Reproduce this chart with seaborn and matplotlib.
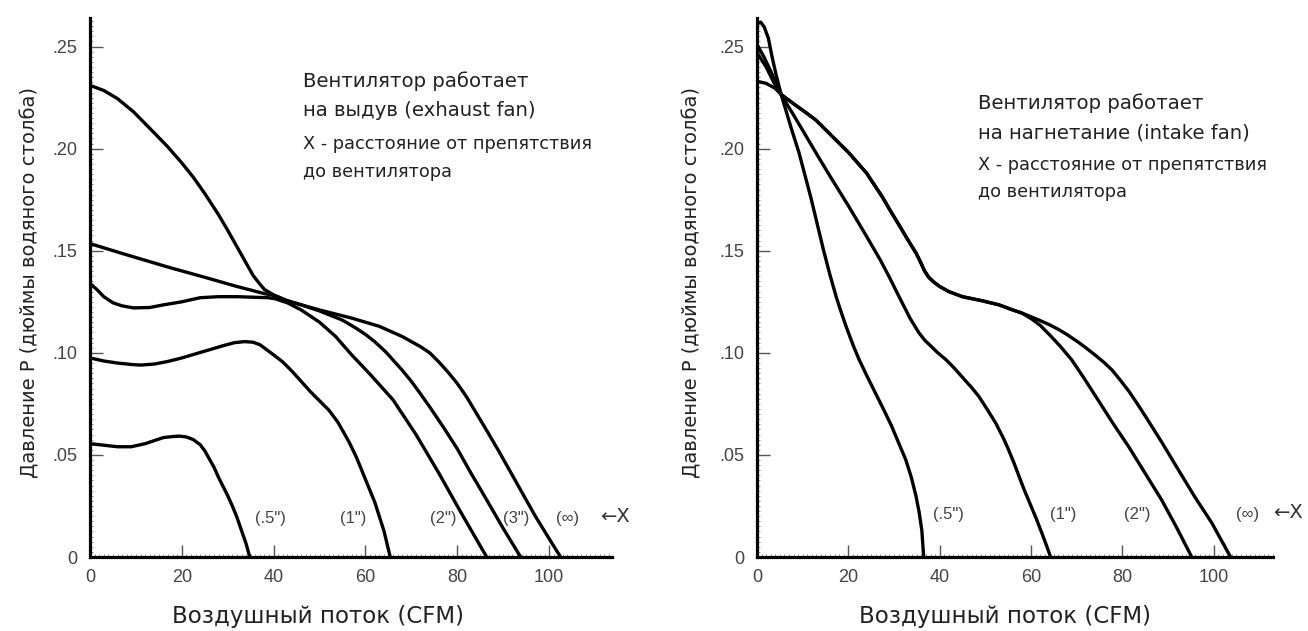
import numpy as np
import pandas as pd
import matplotlib
matplotlib.use("Agg")
import matplotlib.pyplot as plt
from matplotlib import font_manager
from matplotlib.ticker import FixedLocator, MultipleLocator
import seaborn as sns

# ---------------- data ----------------
# Left panel: exhaust fan
ex_05_x = [0, 2, 4, 6, 9, 12, 14, 16, 18, 19.5, 21, 22.5, 24, 25, 26, 27, 28, 29, 30, 31, 32, 33, 34, 34.8]
ex_05_y = [.0555, .055, .0545, .054, .054, .0555, .057, .0585, .059, .0592, .0588, .0575, .055, .052, .048,
           .044, .039, .0345, .030, .025, .0195, .013, .0065, 0]

ex_1_x = [0, 3, 6, 9, 11, 14, 17, 20, 23, 26, 29, 31.5, 33.7, 35.5, 37, 38.5, 40, 42, 44, 46, 48, 50, 52, 54,
          55, 56.5, 58, 59, 60, 61, 62, 63, 64, 65.4]
ex_1_y = [.0975, .096, .095, .0943, .094, .0945, .0958, .0975, .0995, .1015, .1035, .105, .1055, .1052, .104,
          .1015, .099, .0955, .091, .086, .081, .0765, .072, .066, .062, .056, .049, .0435, .038, .0325, .027,
          .020, .013, 0]

ex_2_x = [0, 1.5, 3, 5, 7, 9.5, 13, 16, 20, 24, 28, 32, 36, 38.8, 40.3, 43, 46, 48, 50, 53.5, 57, 60.8, 63,
          66, 71, 76, 81, 86.4]
ex_2_y = [.134, .131, .1275, .1245, .123, .122, .1222, .1235, .125, .127, .1275, .1275, .1272, .127, .1265,
          .1245, .121, .118, .115, .108, .099, .090, .0845, .077, .060, .041, .021, 0]

ex_3_x = [0, 8, 17, 25, 32, 38, 40.3, 43, 46, 50, 55, 58, 60, 62, 64.4, 66, 68, 70, 71.8, 74, 77, 80, 83,
          86.4, 90, 93.8]
ex_3_y = [.1535, .148, .142, .137, .1325, .129, .128, .1255, .1235, .1205, .116, .112, .109, .1055, .1005,
          .0965, .0915, .086, .0805, .0735, .0635, .053, .041, .028, .014, 0]

ex_inf_x = [0, 3, 6, 9.5, 13, 16.9, 20, 22.5, 25, 27.9, 30, 32, 34, 35.5, 36.7, 38, 40.3, 43, 46, 50, 53.5,
            57, 60, 63, 66, 68, 70, 72, 74, 76, 78, 80, 82, 84, 86.4, 89, 92, 95, 97, 100, 102.5]
ex_inf_y = [.231, .2285, .2245, .218, .210, .201, .193, .186, .178, .168, .160, .152, .144, .138, .1345, .131,
            .128, .1255, .1235, .121, .119, .117, .115, .113, .110, .108, .1055, .103, .1, .0955, .0905, .085,
            .0785, .071, .062, .052, .040, .028, .020, .009, 0]

# Right panel: intake fan
in_05_x = [0, 0.8, 1.6, 2.5, 3.3, 4.2, 5.3, 6.3, 7.5, 9.2, 10.5, 11.8, 13.2, 14.6, 16, 17.4, 18.5, 19.5, 21,
           22.3, 24, 26, 28, 29.5, 31, 32.6, 33.8, 34.8, 35.5, 36.1, 36.5]
in_05_y = [.261, .262, .2595, .254, .245, .236, .2265, .219, .210, .198, .187, .176, .163, .150, .138, .127,
           .1195, .113, .104, .097, .089, .080, .071, .064, .056, .0475, .039, .030, .022, .013, 0]

in_1_x = [0, 1.5, 3, 4.2, 5.3, 6.5, 8, 10, 12.9, 16, 20.1, 24, 27, 29, 31, 33.5, 35.4, 36.8, 38, 39.6, 41.4,
          43, 45, 47, 48.6, 50.5, 52.3, 54, 55, 56.2, 57.3, 58.5, 60, 61.3, 62.5, 63.5, 64.3]
in_1_y = [.251, .245, .238, .232, .2265, .222, .2165, .209, .198, .1865, .1717, .157, .1455, .137, .128, .117,
          .110, .106, .1035, .1, .0966, .093, .088, .083, .0786, .072, .0655, .058, .053, .0465, .040, .033,
          .025, .018, .011, .005, 0]

in_2_x = [0, 2, 4, 5.3, 8, 10.5, 12.9, 16.5, 20.1, 24, 27.4, 29.5, 31, 33, 34.8, 35.8, 36.6, 37.6, 38.8, 40,
          42, 45, 49.3, 53, 56, 58, 60.2, 62, 64, 66.5, 68.9, 71.5, 74.2, 77.8, 81.4, 85, 88.6, 92, 95.2]
in_2_y = [.247, .240, .231, .2265, .222, .218, .214, .206, .198, .188, .1765, .1685, .163, .1555, .149, .1445,
          .1405, .137, .1345, .1325, .130, .1275, .1255, .1235, .121, .1195, .1165, .1135, .109, .103, .0966,
          .088, .0786, .066, .054, .041, .028, .014, 0]

in_inf_x = [0, 2, 4, 5.3, 8, 10.5, 12.9, 16.5, 20.1, 24, 27.4, 29.5, 31, 33, 34.8, 35.8, 36.6, 37.6, 38.8, 40,
            42, 45, 49.3, 53, 56, 58, 60.2, 62, 64, 66, 68, 70.5, 72, 74, 76, 77.7, 79.5, 81.5, 83.3, 85.1,
            88.7, 92.3, 96, 99.6, 103.7]
in_inf_y = [.233, .232, .2295, .2265, .222, .218, .214, .206, .198, .188, .1765, .1685, .163, .1555, .149,
            .1445, .1405, .137, .1345, .1325, .130, .1275, .1255, .1235, .121, .1195, .1175, .1158, .1138,
            .1115, .1088, .105, .1025, .099, .0953, .0917, .0868, .081, .075, .0688, .056, .0426, .029, .0167, 0]

x_ticks = [0, 20, 40, 60, 80, 100]
y_ticks = [0, .05, .10, .15, .20, .25]
y_tick_labels = ["0", ".05", ".10", ".15", ".20", ".25"]

left_labels = ['(.5")', '(1")', '(2")', '(3")', '(\u221e)']
right_labels = ['(.5")', '(1")', '(2")', '(\u221e)']

x_label = "Воздушный поток (CFM)"
y_label = "Давление P (дюймы водяного столба)"
left_note = ["Вентилятор работает", "на выдув (exhaust fan)"]
right_note = ["Вентилятор работает", "на нагнетание (intake fan)"]
note2 = ["X - расстояние от препятствия", "до вентилятора"]


def frame(curves):
    parts = []
    for name, xs, ys in curves:
        parts.append(pd.DataFrame({"flow": xs, "pressure": ys, "curve": name}))
    return pd.concat(parts, ignore_index=True)


left_df = frame([(".5", ex_05_x, ex_05_y), ("1", ex_1_x, ex_1_y), ("2", ex_2_x, ex_2_y),
                 ("3", ex_3_x, ex_3_y), ("inf", ex_inf_x, ex_inf_y)])
right_df = frame([(".5", in_05_x, in_05_y), ("1", in_1_x, in_1_y), ("2", in_2_x, in_2_y),
                  ("inf", in_inf_x, in_inf_y)])

# ---------------- style ----------------
sns.set_theme(style="ticks")
names = {f.name for f in font_manager.fontManager.ttflist}
narrow = "Liberation Sans Narrow" if "Liberation Sans Narrow" in names else "Liberation Sans"
plt.rcParams["font.family"] = ["DejaVu Sans"]

W, H = 1308, 631
fig = plt.figure(figsize=(W / 100, H / 100), dpi=100)


def px(x, y):
    return x / W, 1 - y / H


ax1 = fig.add_axes([90 / W, 1 - 557 / H, (612 - 90) / W, (557 - 18) / H])
ax2 = fig.add_axes([757 / W, 1 - 557 / H, (1273 - 757) / W, (557 - 18) / H])

for ax, df, xmax in [(ax1, left_df, 113.7), (ax2, right_df, 113.0)]:
    sns.lineplot(data=df, x="flow", y="pressure", units="curve", estimator=None, sort=False,
                 color="black", linewidth=2.4, ax=ax, legend=False,
                 solid_joinstyle="round")
    ax.set_xlim(0, xmax)
    ax.set_ylim(0, 0.264)
    ax.xaxis.set_major_locator(FixedLocator(x_ticks))
    ax.yaxis.set_major_locator(FixedLocator(y_ticks))
    ax.set_yticklabels(y_tick_labels)
    ax.xaxis.set_minor_locator(MultipleLocator(1))
    ax.yaxis.set_minor_locator(MultipleLocator(0.0025))
    for side in ["top", "right"]:
        ax.spines[side].set_visible(False)
    for side in ["left", "bottom"]:
        ax.spines[side].set_linewidth(2.3)
        ax.spines[side].set_color("black")
    ax.tick_params(which="major", direction="in", length=9, width=1.0, color="#555555",
                   labelsize=13, labelcolor="#444444", pad=9)
    ax.tick_params(which="minor", direction="in", length=2.5, width=0.6, color="#777777")
    for lab in ax.get_xticklabels() + ax.get_yticklabels():
        lab.set_fontfamily(narrow)
    ax.set_xlabel(x_label, fontsize=16.5, color="#222222")
    ax.set_ylabel(y_label, fontsize=14, color="#222222")
    ax.xaxis.label.set_va("center")
    ax.yaxis.label.set_va("center")
    ax.set_facecolor("white")

ax1.xaxis.set_label_coords((318 - 90) / 522, (557 - 617) / 539)
ax1.yaxis.set_label_coords((30 - 90) / 522, (557 - 283) / 539)
ax2.xaxis.set_label_coords((1005 - 757) / 516, (557 - 617) / 539)
ax2.yaxis.set_label_coords((692 - 757) / 516, (557 - 283) / 539)

# curve labels (layout positions, pixels)
lab_kw = dict(fontsize=12, color="#444444", ha="center", va="center", fontfamily=narrow)
for lab, xp in zip(left_labels, [270, 353, 443, 516, 568]):
    fig.text(*px(xp, 518), lab, **lab_kw)
fig.text(*px(615, 516), "\u2190X", fontsize=14, color="#333333", ha="center", va="center",
         fontfamily="DejaVu Sans")
for lab, xp in zip(right_labels, [948, 1063, 1137, 1248]):
    fig.text(*px(xp, 515), lab, **lab_kw)
fig.text(*px(1288, 513), "\u2190X", fontsize=14, color="#333333", ha="center", va="center",
         fontfamily="DejaVu Sans")

# notes
for line, yp in zip(left_note, [81, 111]):
    fig.text(*px(303, yp), line, fontsize=14.2, color="#222222", ha="left", va="center")
for line, yp in zip(note2, [144, 172]):
    fig.text(*px(303, yp), line, fontsize=12.8, color="#222222", ha="left", va="center")
for line, yp in zip(right_note, [103, 133]):
    fig.text(*px(978, yp), line, fontsize=14.2, color="#222222", ha="left", va="center")
for line, yp in zip(note2, [165, 192]):
    fig.text(*px(978, yp), line, fontsize=12.8, color="#222222", ha="left", va="center")

fig.savefig("out.png", dpi=100, facecolor="white")
